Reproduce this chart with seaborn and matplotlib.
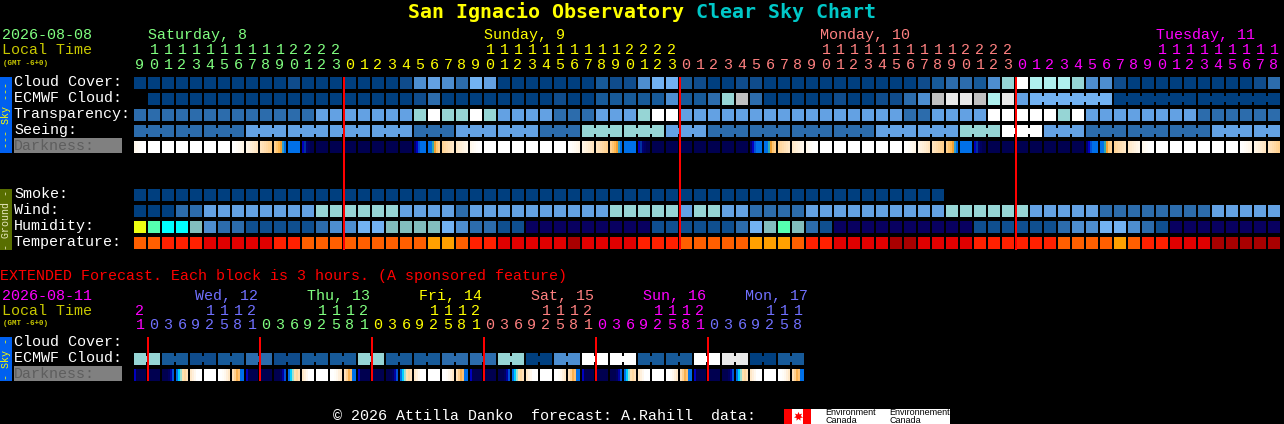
import numpy as np
import seaborn as sns
import matplotlib
matplotlib.use("Agg")
import matplotlib.pyplot as plt
from matplotlib.colors import ListedColormap
from matplotlib.patches import Rectangle

# colour steps for the sky rows, dark blue (good) to white (bad)
SKY_COLORS = ["#003F7F", "#0F4C8C", "#175A99", "#2C6CAC", "#4D8ED0", "#63A1E3",
              "#72B2F2", "#96D5D5", "#AFF0EE", "#FFFFFF", "#E9E9E9", "#C0C0C0"]
HUMIDITY_COLORS = ["#080060", "#0F4F8F", "#2C6CAC", "#4D8ED0", "#72B2F2",
                   "#82BEBE", "#00FFFF", "#55FFB0", "#EEFF12"]
TEMP_COLORS = ["#A80000", "#E00000", "#FF2000", "#FF5F00", "#FFA000"]

CLOUD = [0, 0, 0, 0, 0, 0, 0, 0, 0, 0, 0, 1, 0, 0, 0, 0, 0, 0, 0, 1, 4, 5,
         4, 3, 6, 5, 0, 0, 0, 0, 0, 0, 0, 2, 1, 1, 4, 6, 6, 2, 1, 0, 0, 1, 1, 0, 0, 0, 0, 0, 0, 0,
         0, 0, 0, 0, 1, 2, 3, 3, 2, 4, 7, 9, 8, 8, 8, 7, 4, 4, 1, 0, 0, 0, 0, 0, 0, 0, 0, 0, 1, 3]
ECMWF = [None, 0, 0, 0, 0, 0, 0, 0, 0, 0, 0, 0, 0, 0, 0, 0, 0, 0, 0, 0, 1, 3,
         0, 0, 0, 0, 0, 0, 0, 0, 1, 0, 0, 2, 2, 2, 2, 2, 4, 2, 2, 3, 7, 11, 3, 0, 0, 0, 0, 0, 1, 0,
         0, 1, 1, 3, 4, 11, 10, 10, 11, 8, 10, 5, 6, 6, 6, 6, 6, 6, 0, 0, 0, 0, 0, 0, 0, 0, 0, 0, 0, 0]
ECMWF_RUNS = [(64, 6), (70, 6), (76, 6)]
TRANSPARENCY = [3, 3, 3, 3, 3, 3, 3, 3, 3, 3, 3, 3, 3, 5, 5, 5, 5, 5, 5, 5, 7, 9,
                7, 7, 9, 7, 5, 5, 5, 5, 3, 3, 3, 5, 5, 5, 7, 9, 9, 5, 5, 5, 5, 5, 5, 5, 5, 5, 5, 5, 5, 5,
                5, 5, 5, 3, 3, 5, 5, 5, 5, 9, 9, 9, 9, 9, 7, 9, 5, 5, 5, 5, 5, 5, 5, 5, 3, 3, 3, 3, 3, 3]
SEEING_RUN_LENGTHS = [3, 2, 3, 3, 3, 3, 3, 3, 3, 3, 3, 3, 3, 3, 3, 3, 3, 3, 3, 3, 3, 3, 3, 3, 3, 3, 3, 2]
SEEING = [3, 3, 3, 5, 5, 5, 5, 3, 5, 5, 3, 7, 7, 5, 3, 3, 3, 3, 5, 5, 7, 9, 5, 3, 3, 3, 5, 5]
SMOKE = [0] * 58 + [None] * 24
WIND = [0, 0, 0, 3, 3, 5, 5, 5, 5, 5, 5, 5, 5, 7, 7, 7, 7, 7, 7, 5, 5, 5,
        5, 3, 5, 5, 5, 5, 5, 5, 5, 5, 5, 5, 7, 7, 7, 7, 7, 5, 7, 7, 5, 5, 3, 3, 3, 3, 5, 5, 5, 5,
        5, 5, 5, 5, 5, 5, 7, 7, 7, 7, 7, 7, 5, 5, 5, 5, 5, 3, 3, 3, 3, 3, 3, 3, 3, 5, 5, 5, 5, 5]
HUMIDITY = [8, 7, 6, 6, 5, 3, 2, 2, 1, 1, 1, 1, 1, 2, 3, 3, 4, 4, 5, 5, 5, 5,
            4, 3, 2, 2, 1, 1, 0, 0, 0, 0, 0, 0, 0, 0, 0, 1, 1, 1, 1, 1, 1, 2, 4, 5, 7, 5, 2, 1, 0, 0,
            0, 0, 0, 0, 0, 0, 0, 0, 1, 1, 1, 1, 1, 1, 2, 3, 3, 4, 4, 3, 2, 1, 0, 0, 0, 0, 0, 0, 0, 0]
TEMPERATURE = [3, 3, 2, 2, 2, 1, 1, 1, 1, 1, 2, 2, 3, 3, 3, 3, 3, 3, 3, 3, 3, 4,
               4, 3, 2, 2, 1, 1, 1, 1, 1, 0, 1, 1, 1, 1, 2, 2, 2, 3, 3, 3, 3, 3, 4, 4, 4, 3, 2, 2, 1, 1,
               1, 1, 0, 0, 1, 1, 1, 1, 2, 2, 2, 2, 2, 2, 3, 3, 3, 3, 4, 3, 2, 2, 1, 1, 1, 0, 0, 0, 0, 0]
EXT_ECMWF = [7, 2, 1, 2, 3, 1, 2, 2, 7, 2, 2, 3, 3, 7, 0, 4, 9, 9, 2, 2, 9, 10, 0, 2]

# darkness blocks are shaded across their width, six samples per block
DARK_KINDS = {
    "W": ["#FFFFFF"] * 6,
    "e1": ["#FFFFFF", "#FFFEFC", "#FFFCF7", "#FFFAF2", "#FFF8EC", "#FFF5E6"],
    "e2": ["#FFF5E6", "#FFF2DF", "#FFEFD8", "#FFECD0", "#FFE8C8", "#FFE4BE"],
    "e3": ["#FFE4BE", "#FFE0B6", "#FFDCAC", "#FFD8A2", "#FFD496", "#FFD08E"],
    "e4": ["#FFD08E", "#FFC670", "#FFB850", "#F0A030", "#2F9FCF", "#0070E8"],
    "B": ["#0070E8"] * 6,
    "d1": ["#0000C0", "#0030A0", "#000070", "#000060", "#000050", "#000050"],
    "N": ["#000050"] * 6,
    "m0": ["#000070", "#0000C0", "#0050D8", "#0070E8", "#0070E8", "#0070E8"],
    "m1": ["#0070E8", "#0070E8", "#30A8B0", "#F0A030", "#FFC670", "#FFD08E"],
    "m2": ["#FFD496", "#FFD8A2", "#FFDCAC", "#FFE0B6", "#FFE4BE", "#FFE8C8"],
    "m3": ["#FFE8C8", "#FFECD0", "#FFEFD8", "#FFF2DF", "#FFF5E6", "#FFF8EC"],
    "m4": ["#FFF8EC", "#FFFAF2", "#FFFCF7", "#FFFEFC", "#FFFFFF", "#FFFFFF"],
    "x0": ["#0000C0", "#000050", "#000050", "#000050", "#000050", "#000050"],
    "x2": ["#000050", "#000050", "#000050", "#000060", "#0000A0", "#0050D8"],
    "x3": ["#0070E8", "#00D0FF", "#A0E0D0", "#FFE0B0", "#FFD8A0", "#FFE0B8"],
    "x4": ["#FFE8C8", "#FFF0DC", "#FFF8EE", "#FFFFFF", "#FFFFFF", "#FFFFFF"],
    "x6": ["#FFFFFF", "#FFFFFF", "#FFFDF8", "#FFF8EE", "#FFF0DC", "#FFE8C8"],
    "x7": ["#FFE0B8", "#FFD090", "#F8B050", "#FFC070", "#0070E8", "#0070E8"],
}
DARK_NIGHT = ["e1", "e2", "e3", "e4", "B", "d1"] + ["N"] * 7 + ["m0", "m1", "m2", "m3", "m4"]
DARKNESS = (["m4"] + ["W"] * 6 + DARK_NIGHT + ["W"] * 6 + DARK_NIGHT + ["W"] * 6 + DARK_NIGHT
            + ["W"] * 6 + ["e1", "e2", "e3"])
EXT_DARKNESS = ["x0", "N", "x2", "x3", "x4", "W", "x6", "x7"] * 6

GREEN, YELLOW, PINK, MAGENTA, BLUE = "#80FF80", "#FFFF00", "#FF8080", "#FF00FF", "#7070FF"
DAYS = [("Saturday, 8", GREEN, 9, 23), ("Sunday, 9", YELLOW, 0, 23),
        ("Monday, 10", PINK, 0, 23), ("Tuesday, 11", MAGENTA, 0, 18)]
EXT_DAYS = [("", MAGENTA, 21, 21), ("Wed, 12", BLUE, 0, 21), ("Thu, 13", GREEN, 0, 21),
            ("Fri, 14", YELLOW, 0, 21), ("Sat, 15", PINK, 0, 21), ("Sun, 16", MAGENTA, 0, 21),
            ("Mon, 17", BLUE, 0, 18)]

W, H = 1284, 424
X0, PITCH = 134, 14
CHAR = 15
MONO = "Liberation Mono"
TITLE_FONT = "DejaVu Sans Mono"

sns.set_theme(style="dark")
plt.rcParams["font.family"] = [MONO]
plt.rcParams["figure.facecolor"] = "black"
plt.rcParams["axes.facecolor"] = "black"

fig = plt.figure(figsize=(W / 100, H / 100), dpi=100)
ov = fig.add_axes([0, 0, 1, 1], zorder=5)
ov.set_xlim(0, W)
ov.set_ylim(H, 0)
ov.axis("off")
ov.patch.set_alpha(0)


def px(n):
    return n * 72 / 100


def label(x, y, s, color="white", size=CHAR, family=MONO, **kw):
    ov.text(x, y, s, color=color, fontsize=px(size), va="baseline", family=family, **kw)


def strip(y, grid, palette):
    # 2 px columns: six make a block, the seventh stays empty as the gap
    ax = fig.add_axes([X0 / W, 1 - (y + 12) / H, 2 * len(grid) / W, 12 / H])
    sns.heatmap(grid[None, :], ax=ax, cmap=ListedColormap(palette), vmin=0, vmax=len(palette) - 1,
                cbar=False, xticklabels=False, yticklabels=False)
    return ax


def cell_row(y, values, colors, runs=()):
    vals = np.array([np.nan if v is None else v for v in values], dtype=float)
    grid = np.full(7 * len(vals), np.nan)
    for i, v in enumerate(vals):
        grid[7 * i:7 * i + 6] = v
    ax = strip(y, grid, colors)
    # bridge between blocks that belong to one forecast period
    for start, length in runs:
        for i in range(start + 1, start + length):
            ax.add_patch(Rectangle((7 * i - 1, 0.25), 1, 0.5, color=colors[int(vals[i])], lw=0))


def dark_row(y, kinds):
    palette = sorted({c for k in DARK_KINDS.values() for c in k})
    grid = []
    for kind in kinds:
        grid += [palette.index(c) for c in DARK_KINDS[kind]] + [np.nan]
    strip(y, np.array(grid, dtype=float), palette)


def hour_header(days, y_day, y_tens, y_units, day_xs):
    col = 0
    for (name, color, first, last), day_x in zip(days, day_xs):
        step = 3 if days is EXT_DAYS else 1
        if name:
            label(day_x, y_day, name, color)
        for hour in range(first, last + 1, step):
            cx = X0 + PITCH * col + 6
            if hour >= 10:
                label(cx, y_tens, str(hour // 10), color, ha="center")
            label(cx, y_units, str(hour % 10), color, ha="center")
            col += 1


def side_bar(y0, y1, color, text, text_color):
    ov.add_patch(Rectangle((0, y0), 12, y1 - y0, color=color, lw=0))
    ov.text(6, (y0 + y1) / 2, text, color=text_color, fontsize=px(10), rotation=90,
            ha="center", va="center", family=MONO)


def dark_label(y):
    ov.add_patch(Rectangle((14, y - 12), 108, 15, color="#808080", lw=0))
    label(14, y, "Darkness:", "#5E5E5E")


def day_lines(cols, y0, y1):
    xs = [X0 + PITCH * k - 1 for k in cols]
    ov.bar(xs, y1 - y0, width=2, bottom=y0, align="edge", color="#FF0000", lw=0)


# title, one colour per part
label(408, 18, "San Ignacio Observatory", YELLOW, 20, TITLE_FONT, fontweight="bold")
label(696, 18, "Clear Sky Chart", "#00C8C8", 20, TITLE_FONT, fontweight="bold")

# main forecast
label(2, 39, "2026-08-08", GREEN)
label(2, 54, "Local Time", "#C8C800")
label(3, 65, "(GMT -6+0)", "#C8C800", 7.5, fontweight="bold")
hour_header(DAYS, 39, 54, 69, [148, 484, 820, 1156])

for y, name in zip([86, 102, 118, 134], ["Cloud Cover:", "ECMWF Cloud:", "Transparency:", "Seeing:"]):
    label(14, y, name)
dark_label(150)
for y, name in zip([198, 214, 230, 246], ["Smoke:", "Wind:", "Humidity:", "Temperature:"]):
    label(14, y, name)

seeing_values = np.repeat(SEEING, SEEING_RUN_LENGTHS)
seeing_starts = np.cumsum([0] + SEEING_RUN_LENGTHS[:-1])
cell_row(77, CLOUD, SKY_COLORS)
cell_row(93, ECMWF, SKY_COLORS, ECMWF_RUNS)
cell_row(109, TRANSPARENCY, SKY_COLORS)
cell_row(125, seeing_values, SKY_COLORS, list(zip(seeing_starts, SEEING_RUN_LENGTHS)))
dark_row(141, DARKNESS)
cell_row(189, SMOKE, SKY_COLORS)
cell_row(205, WIND, SKY_COLORS)
cell_row(221, HUMIDITY, HUMIDITY_COLORS)
cell_row(237, TEMPERATURE, TEMP_COLORS)

side_bar(77, 153, "#0060F0", "--- Sky ---", YELLOW)
side_bar(189, 250, "#586E00", "- Ground -", "#E8E8C0")
day_lines((15, 39, 63), 77, 250)

# extended forecast
label(0, 280, "EXTENDED Forecast. Each block is 3 hours. (A sponsored feature)", "#FF0000")
label(2, 300, "2026-08-11", MAGENTA)
label(2, 315, "Local Time", "#C8C800")
label(3, 325, "(GMT -6+0)", "#C8C800", 7.5, fontweight="bold")
hour_header(EXT_DAYS, 300, 315, 329, [0, 195, 307, 419, 531, 643, 745])

for y, name in zip([346, 362], ["Cloud Cover:", "ECMWF Cloud:"]):
    label(14, y, name)
dark_label(378)
cell_row(353, np.repeat(EXT_ECMWF, 2), SKY_COLORS, [(k, 2) for k in range(0, 48, 2)])
dark_row(369, EXT_DARKNESS)
side_bar(337, 381, "#0060F0", "- Sky -", YELLOW)
day_lines(range(1, 48, 8), 337, 381)

# footer and data credit
label(333, 420, "\u00a9 2026 Attilla Danko  forecast: A.Rahill  data:")
ov.add_patch(Rectangle((784, 409), 166, 15, color="white", lw=0))
ov.add_patch(Rectangle((784, 409), 8, 15, color="#FF0000", lw=0))
ov.add_patch(Rectangle((803, 409), 8, 15, color="#FF0000", lw=0))
ov.scatter([797.5], [416], marker=(7, 1, 0), s=45, color="#FF0000", lw=0)
for x, word in [(825, "Environment"), (889, "Environnement")]:
    ov.text(x, 415, word, color="black", fontsize=px(9), va="baseline", family="Liberation Sans")
    ov.text(x, 423, "Canada", color="black", fontsize=px(9), va="baseline", family="Liberation Sans")

fig.savefig("out.png", dpi=100, facecolor="black")
